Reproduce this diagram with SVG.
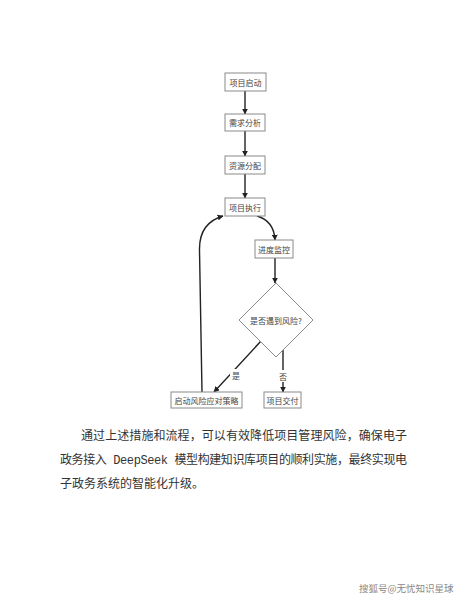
<svg xmlns="http://www.w3.org/2000/svg" width="463" height="600" viewBox="0 0 463 600">
<style>
.box{fill:#fff;stroke:#8a8a8a;stroke-width:1}
.lbl{font-family:"Noto Sans CJK SC",sans-serif;font-size:8px;fill:#444;text-anchor:middle;dominant-baseline:central}
.edge{fill:none;stroke:#222;stroke-width:1.4}
.para{font-family:"Liberation Mono","Noto Sans CJK SC",monospace;font-size:12px;fill:#333}
.wm{font-family:"Noto Sans CJK SC",sans-serif;font-size:9.5px;fill:#888}
</style>
<defs>
<marker id="ah" viewBox="0 0 10 10" refX="9" refY="5" markerWidth="6" markerHeight="6" orient="auto" markerUnits="userSpaceOnUse">
<path d="M0,0 L10,5 L0,10 z" fill="#222"/>
</marker>
</defs>
<rect width="463" height="600" fill="#fff"/>
<g id="connectors">
<line class="edge" x1="245" y1="91" x2="245" y2="114" marker-end="url(#ah)"/>
<line class="edge" x1="245" y1="131" x2="245" y2="156" marker-end="url(#ah)"/>
<line class="edge" x1="245" y1="174" x2="245" y2="198" marker-end="url(#ah)"/>
<path class="edge" d="M257,216 Q274,221 275,240" marker-end="url(#ah)"/>
<line class="edge" x1="275" y1="258" x2="275" y2="283" marker-end="url(#ah)"/>
<line class="edge" x1="261" y1="341" x2="214" y2="392" marker-end="url(#ah)"/>
<line class="edge" x1="283" y1="350" x2="283" y2="392" marker-end="url(#ah)"/>
<path class="edge" d="M202,392 L199.5,250 Q199,223 223,216" marker-end="url(#ah)"/>
<rect x="230" y="369" width="11" height="12" fill="#fff"/>
<text class="lbl" x="236" y="375">是</text>
<rect x="278" y="370" width="11" height="12" fill="#fff"/>
<text class="lbl" x="283" y="376">否</text>
</g>
<g id="n1"><rect class="box" x="225" y="73" width="41" height="18"/><text class="lbl" x="245.5" y="82">项目启动</text></g>
<g id="n2"><rect class="box" x="225" y="114" width="40" height="17"/><text class="lbl" x="245" y="122.5">需求分析</text></g>
<g id="n3"><rect class="box" x="225" y="156" width="40" height="18"/><text class="lbl" x="245" y="165">资源分配</text></g>
<g id="n4"><rect class="box" x="225" y="198" width="40" height="18"/><text class="lbl" x="245" y="207">项目执行</text></g>
<g id="n5"><rect class="box" x="255" y="240" width="38" height="18"/><text class="lbl" x="274" y="249">进度监控</text></g>
<g id="n6"><polygon class="box" points="276,283 313,320 276,357 239,320"/><text class="lbl" x="276" y="320">是否遇到风险?</text></g>
<g id="n7"><rect class="box" x="171" y="392" width="71" height="16"/><text class="lbl" x="206.5" y="400">启动风险应对策略</text></g>
<g id="n8"><rect class="box" x="264" y="392" width="37" height="16"/><text class="lbl" x="282.5" y="400">项目交付</text></g>
<text class="para" x="81" y="440" textLength="326" lengthAdjust="spacing">通过上述措施和流程，可以有效降低项目管理风险，确保电子</text>
<text class="para" x="60" y="464" textLength="347" lengthAdjust="spacing">政务接入 DeepSeek 模型构建知识库项目的顺利实施，最终实现电</text>
<text class="para" x="60" y="488">子政务系统的智能化升级。</text>
<text class="wm" x="359" y="592">搜狐号@无忧知识星球</text>
</svg>
